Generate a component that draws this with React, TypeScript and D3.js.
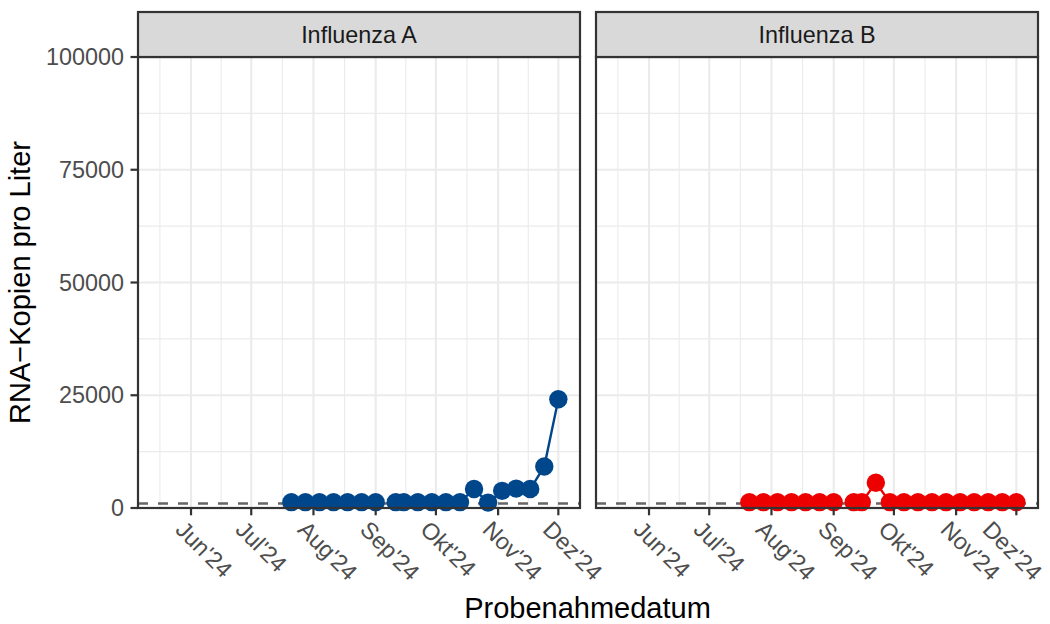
import { useEffect, useRef } from 'react';
import * as d3 from 'd3';

// Sampling dates (weekly, Sep 8 missing -> line break)
const sampleDates = [
  '2024-07-21', '2024-07-28', '2024-08-04', '2024-08-11', '2024-08-18', '2024-08-25', '2024-09-01',
  '2024-09-08', '2024-09-11', '2024-09-15', '2024-09-22', '2024-09-29', '2024-10-06', '2024-10-13',
  '2024-10-20', '2024-10-27', '2024-11-03', '2024-11-10', '2024-11-17', '2024-11-24', '2024-12-01'
];

const influenzaA: (number | null)[] = [
  1300, 1300, 1300, 1300, 1300, 1300, 1300,
  null, 1300, 1300, 1300, 1300, 1300, 1300,
  4200, 1200, 3800, 4300, 4200, 9200, 24100
];

const influenzaB: (number | null)[] = [
  1300, 1300, 1300, 1300, 1300, 1300, 1300,
  null, 1300, 1300, 5600, 1300, 1300, 1300,
  1300, 1300, 1300, 1300, 1300, 1300, 1300
];

const panelNames = ['Influenza A', 'Influenza B'];
const panelColors = ['#00468B', '#ED0000'];

const yTicks = [0, 25000, 50000, 75000, 100000];
const yMinorTicks = [12500, 37500, 62500, 87500];
const monthTicks = ['2024-06-01', '2024-07-01', '2024-08-01', '2024-09-01', '2024-10-01', '2024-11-01', '2024-12-01'];
const monthLabels = ["Jun'24", "Jul'24", "Aug'24", "Sep'24", "Okt'24", "Nov'24", "Dez'24"];
const detectionLimit = 1000;

type Point = { date: Date; value: number | null };

const FONT = '"Liberation Sans", Arial, Helvetica, sans-serif';

export default function App() {
  const ref = useRef<SVGSVGElement | null>(null);

  useEffect(() => {
    if (!ref.current) return;
    const svg = d3.select(ref.current);
    svg.selectAll('*').remove();

    const panelLefts = [138, 596];
    const panelWidth = 442;
    const top = 57;
    const bottom = 508;
    const stripTop = 12;

    const parse = d3.timeParse('%Y-%m-%d');
    const dates = sampleDates.map((d) => parse(d) as Date);
    const ticks = monthTicks.map((d) => parse(d) as Date);

    const y = d3.scaleLinear().domain([0, 100000]).range([bottom, top]);

    // minor x breaks halfway between month starts (incl. May)
    const monthStarts = [new Date(2024, 4, 1), ...ticks];
    const xMinor = d3.pairs(monthStarts).map(([a, b]) => new Date((a.getTime() + b.getTime()) / 2));

    const series = [influenzaA, influenzaB];

    panelLefts.forEach((left, i) => {
      const x = d3
        .scaleTime()
        .domain([new Date(2024, 4, 5, 14), new Date(2024, 11, 11, 19)])
        .range([left, left + panelWidth]);

      const g = svg.append('g');

      g.append('rect')
        .attr('x', left)
        .attr('y', top)
        .attr('width', panelWidth)
        .attr('height', bottom - top)
        .attr('fill', 'white');

      // minor grid
      g.selectAll('.ymin')
        .data(yMinorTicks)
        .enter()
        .append('line')
        .attr('x1', left)
        .attr('x2', left + panelWidth)
        .attr('y1', (d) => y(d))
        .attr('y2', (d) => y(d))
        .attr('stroke', '#EBEBEB')
        .attr('stroke-width', 1.1);

      g.selectAll('.xmin')
        .data(xMinor.filter((d) => x(d) > left && x(d) < left + panelWidth))
        .enter()
        .append('line')
        .attr('x1', (d) => x(d))
        .attr('x2', (d) => x(d))
        .attr('y1', top)
        .attr('y2', bottom)
        .attr('stroke', '#EBEBEB')
        .attr('stroke-width', 1.1);

      // major grid
      g.selectAll('.ymaj')
        .data(yTicks)
        .enter()
        .append('line')
        .attr('x1', left)
        .attr('x2', left + panelWidth)
        .attr('y1', (d) => y(d))
        .attr('y2', (d) => y(d))
        .attr('stroke', '#EBEBEB')
        .attr('stroke-width', 2.1);

      g.selectAll('.xmaj')
        .data(ticks)
        .enter()
        .append('line')
        .attr('x1', (d) => x(d))
        .attr('x2', (d) => x(d))
        .attr('y1', top)
        .attr('y2', bottom)
        .attr('stroke', '#EBEBEB')
        .attr('stroke-width', 2.1);

      // detection limit
      g.append('line')
        .attr('x1', left)
        .attr('x2', left + panelWidth)
        .attr('y1', y(detectionLimit))
        .attr('y2', y(detectionLimit))
        .attr('stroke', '#666666')
        .attr('stroke-width', 2.4)
        .attr('stroke-dasharray', '10,10');

      const data: Point[] = dates.map((d, j) => ({ date: d, value: series[i][j] }));

      const line = d3
        .line<Point>()
        .defined((d) => d.value !== null)
        .x((d) => x(d.date))
        .y((d) => y(d.value as number));

      g.append('path')
        .datum(data)
        .attr('fill', 'none')
        .attr('stroke', panelColors[i])
        .attr('stroke-width', 2.4)
        .attr('d', line);

      g.selectAll('.dot')
        .data(data.filter((d) => d.value !== null))
        .enter()
        .append('circle')
        .attr('cx', (d) => x(d.date))
        .attr('cy', (d) => y(d.value as number))
        .attr('r', 9.2)
        .attr('fill', panelColors[i]);

      // panel border
      g.append('rect')
        .attr('x', left)
        .attr('y', top)
        .attr('width', panelWidth)
        .attr('height', bottom - top)
        .attr('fill', 'none')
        .attr('stroke', '#333333')
        .attr('stroke-width', 2.2);

      // strip
      g.append('rect')
        .attr('x', left)
        .attr('y', stripTop)
        .attr('width', panelWidth)
        .attr('height', top - stripTop)
        .attr('fill', '#D9D9D9')
        .attr('stroke', '#333333')
        .attr('stroke-width', 2.2);

      g.append('text')
        .attr('x', left + panelWidth / 2)
        .attr('y', (stripTop + top) / 2)
        .attr('text-anchor', 'middle')
        .attr('dominant-baseline', 'central')
        .style('font-family', FONT)
        .style('font-size', '23.4px')
        .style('fill', '#1A1A1A')
        .text(panelNames[i]);

      // x axis ticks + labels
      const xt = g.append('g');
      ticks.forEach((t, k) => {
        xt.append('line')
          .attr('x1', x(t))
          .attr('x2', x(t))
          .attr('y1', bottom)
          .attr('y2', bottom + 7.3)
          .attr('stroke', '#333333')
          .attr('stroke-width', 2.2);
        const label = xt
          .append('text')
          .attr('transform', `translate(${x(t) - 5}, ${bottom + 11}) rotate(45)`)
          .attr('text-anchor', 'start')
          .attr('dominant-baseline', 'hanging')
          .style('font-family', FONT)
          .style('font-size', '23.4px')
          .style('fill', '#4D4D4D')
          .text(monthLabels[k]);
        // keep the last label inside the picture
        const node = label.node() as SVGTextElement;
        const right = node.getBoundingClientRect().right;
        if (right > 1047) {
          const shift = right - 1047;
          label.attr('transform', `translate(${x(t) - 5 - shift}, ${bottom + 11}) rotate(45)`);
        }
      });
    });

    // y axis (left panel only)
    const ya = svg.append('g');
    yTicks.forEach((t) => {
      ya.append('line')
        .attr('x1', 130.5)
        .attr('x2', 138)
        .attr('y1', y(t))
        .attr('y2', y(t))
        .attr('stroke', '#333333')
        .attr('stroke-width', 2.2);
      ya.append('text')
        .attr('x', 124)
        .attr('y', y(t))
        .attr('text-anchor', 'end')
        .attr('dominant-baseline', 'central')
        .style('font-family', FONT)
        .style('font-size', '23.4px')
        .style('fill', '#4D4D4D')
        .text(String(t));
    });

    // axis titles
    svg.append('text')
      .attr('transform', `translate(30, ${(top + bottom) / 2}) rotate(-90)`)
      .attr('text-anchor', 'middle')
      .style('font-family', FONT)
      .style('font-size', '29px')
      .style('fill', '#000000')
      .text('RNA−Kopien pro Liter');

    svg.append('text')
      .attr('x', 587.5)
      .attr('y', 618)
      .attr('text-anchor', 'middle')
      .style('font-family', FONT)
      .style('font-size', '29px')
      .style('fill', '#000000')
      .text('Probenahmedatum');
  }, []);

  return (
    <svg
      ref={ref}
      width={1050}
      height={624}
      style={{ position: 'absolute', left: 0, top: 0, background: 'white' }}
    />
  );
}
